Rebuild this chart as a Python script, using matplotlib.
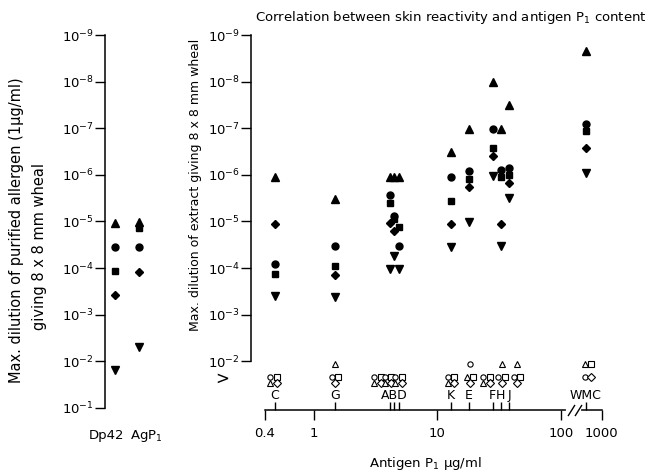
import numpy as np
import matplotlib
matplotlib.use('Agg')
from matplotlib import pyplot as plt
from matplotlib.ticker import FixedLocator, FixedFormatter, NullLocator, NullFormatter
from matplotlib.transforms import offset_copy, blended_transform_factory

plt.rcParams['font.family'] = ['DejaVu Sans']
plt.rcParams['mathtext.default'] = 'regular'

# 左图: 纯化过敏原 (log10 稀释度)
purified = ['Dp42', 'AgP$_1$']
pur_tri = [-4.97, -4.99]
pur_circ = [-4.45, -4.45]
pur_sq = [-3.94, -4.86]
pur_dia = [-3.42, -3.91]
pur_down = [-1.81, -2.30]

# 右图: 各提取物, 抗原P1含量 (µg/ml) 和 log10 稀释度
extracts = ['C', 'G', 'A', 'B', 'D', 'K', 'E', 'F', 'H', 'J', 'WMC']
p1_content = [0.48, 1.48, 4.1, 4.45, 4.85, 12.9, 18, 28, 32.5, 38, 300]
ext_tri = [-5.95, -5.48, -5.95, -5.95, -5.95, -6.49, -6.98, -7.99, -6.98, -7.50, -8.66]
ext_circ = [-4.09, -4.47, -5.57, -5.12, -4.47, -5.95, -6.08, -6.98, -6.10, -6.15, -7.09]
ext_sq = [-3.87, -4.04, -5.40, -5.05, -4.88, -5.44, -5.91, -6.58, -5.95, -6.00, -6.94]
ext_dia = [-4.94, -3.85, -4.97, -4.79, np.nan, -4.94, -5.74, -6.40, -4.94, -5.82, -6.58]
ext_down = [-3.40, -3.38, -3.98, -4.26, -3.98, -4.45, -4.99, -5.97, -4.47, -5.50, -6.04]
# 空心符号 (> 10^-2): 每个提取物 [三角, 圆, 方, 菱形] 的行号
open_levels = [[1, 0, 0, 1], [2, 0, 0, 1], [1, 0, 0, 1], [1, 0, 0, 1], [1, 0, 0, 1],
               [1, 0, 0, 1], [0, 2, 0, 1], [1, 0, 0, 1], [2, 0, 0, 1], [2, 0, 0, 1],
               [2, 0, 2, 0]]
letter_groups = [['C'], ['G'], ['A', 'B', 'D'], ['K'], ['E'], ['F'], ['H'], ['J'], ['WMC']]

# 布局
open_shift = [-1, 0, -12, -6, 0, 0, 1, -6, 1, 8, 2]
open_rows = [0.0218, 0.0294, 0.0115]
W, H = 654, 474
PXD = 46.6
y_bottom = 10 ** (-9 + 375 / PXD)
LB = np.log10(130)
K = 0.244


def fwd(v):
    lv = np.log10(np.maximum(np.asarray(v, float), 1e-12))
    return np.where(lv <= LB, lv, LB + K * (lv - LB))


def inv(u):
    u = np.asarray(u, float)
    return 10 ** np.where(u <= LB, u, LB + (u - LB) / K)


def box(x0, y0, x1, y1):
    return [x0 / W, 1 - y1 / H, (x1 - x0) / W, (y1 - y0) / H]


def ylab(e):
    return '$10^{%d}$' % e


fig = plt.figure(figsize=(6.54, 4.74), dpi=100)
ax_l = fig.add_axes(box(105, 35, 165, 410))
ax_r = fig.add_axes(box(251, 35, 632, 410))

styles = [('^', 5.5), ('o', 5), ('s', 4.3), ('D', 4), ('v', 5.5)]

# 左图
xs = np.arange(len(purified))
for (m, ms), vals in zip(styles, [pur_tri, pur_circ, pur_sq, pur_dia, pur_down]):
    ax_l.plot(xs, 10.0 ** np.array(vals), m, color='black', ms=ms, ls='none')
ax_l.set_yscale('log')
ax_l.set_ylim(y_bottom, 1e-9)
ax_l.set_xlim(-0.417, 2.083)
ax_l.set_yticks(10.0 ** np.arange(-9, 0), [ylab(e) for e in range(-9, 0)])
ax_l.yaxis.set_minor_locator(NullLocator())
ax_l.set_xticks([])
ax_l.tick_params(axis='y', direction='out', length=7, width=1, pad=1, labelsize=9.5)
for s in ['top', 'right', 'bottom']:
    ax_l.spines[s].set_visible(False)
ax_l.spines['left'].set_bounds(1e-9, 1e-1)
ax_l.spines['left'].set_linewidth(1.1)
ax_l.patch.set_visible(False)
fig.text(106 / W, 1 - 436 / H, purified[0], ha='center', va='center', fontsize=9.5)
fig.text(146 / W, 1 - 436 / H, purified[1], ha='center', va='center', fontsize=9.5)

# 右图
ax_r.set_xscale('function', functions=(fwd, inv))
x = np.array(p1_content)
for (m, ms), vals in zip(styles, [ext_tri, ext_circ, ext_sq, ext_dia, ext_down]):
    ax_r.plot(x, 10.0 ** np.array(vals), m, color='black', ms=ms, ls='none')

open_marks = ['^', 'o', 's', 'D']
for i, lev in enumerate(open_levels):
    for row in range(3):
        items = [open_marks[j] for j in range(4) if lev[j] == row]
        for k, m in enumerate(items):
            dx = (k - (len(items) - 1) / 2) * 6.5 + open_shift[i]
            tr = offset_copy(ax_r.transData, fig=fig, x=dx, y=0, units='dots')
            ax_r.plot(p1_content[i], open_rows[row], m, transform=tr, ms=3.8,
                      mfc='white', mec='black', mew=0.8, ls='none')

ax_r.set_yscale('log')
ax_r.set_ylim(y_bottom, 1e-9)
ax_r.set_xlim(float(inv(-0.51)), float(inv(2.575)))
ax_r.set_yticks(10.0 ** np.arange(-9, -1), [ylab(e) for e in range(-9, -1)])
ax_r.yaxis.set_minor_locator(NullLocator())
ax_r.xaxis.set_major_locator(FixedLocator([0.4, 1, 10, 100, 1000]))
ax_r.xaxis.set_major_formatter(FixedFormatter(['0.4', '1', '10', '100', '1000']))
ax_r.xaxis.set_minor_locator(FixedLocator(p1_content))
ax_r.xaxis.set_minor_formatter(NullFormatter())
ax_r.tick_params(axis='x', which='major', direction='out', length=7, width=1, pad=5, labelsize=9.5)
ax_r.tick_params(axis='x', which='minor', direction='in', length=6, width=1)
ax_r.tick_params(axis='y', direction='out', length=7, width=1, pad=1, labelsize=9.5)
for s in ['top', 'right']:
    ax_r.spines[s].set_visible(False)
ax_r.spines['left'].set_bounds(1e-9, 1e-2)
ax_r.spines['bottom'].set_bounds(0.4, 1000)
ax_r.spines['left'].set_linewidth(1.1)
ax_r.spines['bottom'].set_linewidth(1.1)
ax_r.patch.set_visible(False)

# 字母标签
pos = dict(zip(extracts, p1_content))
for grp in letter_groups:
    gx = np.exp(np.mean(np.log([pos[g] for g in grp])))
    ax_r.annotate(''.join(grp), xy=(gx, 0), xycoords=('data', 'axes fraction'),
                  xytext=(0, 6), textcoords='offset points', ha='center', va='bottom',
                  fontsize=9)

# 轴断开
bt = blended_transform_factory(ax_r.transData, ax_r.transAxes)
ax_r.plot([115, 175], [0, 0], color='white', lw=3, transform=bt, clip_on=False, zorder=3)
ax_r.plot([120, 165], [0, 0], ls='none', marker=[(-1, -1.6), (1, 1.6)], ms=8, mew=1,
          color='black', transform=bt, clip_on=False, zorder=4)

fig.text(222 / W, 1 - 379 / H, '>', ha='center', va='center', fontsize=12)
fig.text(451 / W, 1 - 17 / H, 'Correlation between skin reactivity and antigen P$_1$ content',
         ha='center', va='center', fontsize=9.5)
fig.text(425 / W, 1 - 463 / H, 'Antigen P$_1$ µg/ml', ha='center', va='center', fontsize=9.5)
fig.text(17 / W, 1 - 230 / H, 'Max. dilution of purified allergen (1µg/ml)', rotation=90,
         ha='center', va='center', fontsize=10.5)
fig.text(40 / W, 1 - 246 / H, 'giving 8 x 8 mm wheal', rotation=90,
         ha='center', va='center', fontsize=10.5)
fig.text(196 / W, 1 - 185 / H, 'Max. dilution of extract giving 8 x 8 mm wheal', rotation=90,
         ha='center', va='center', fontsize=9)

plt.savefig('out.png', dpi=100)
